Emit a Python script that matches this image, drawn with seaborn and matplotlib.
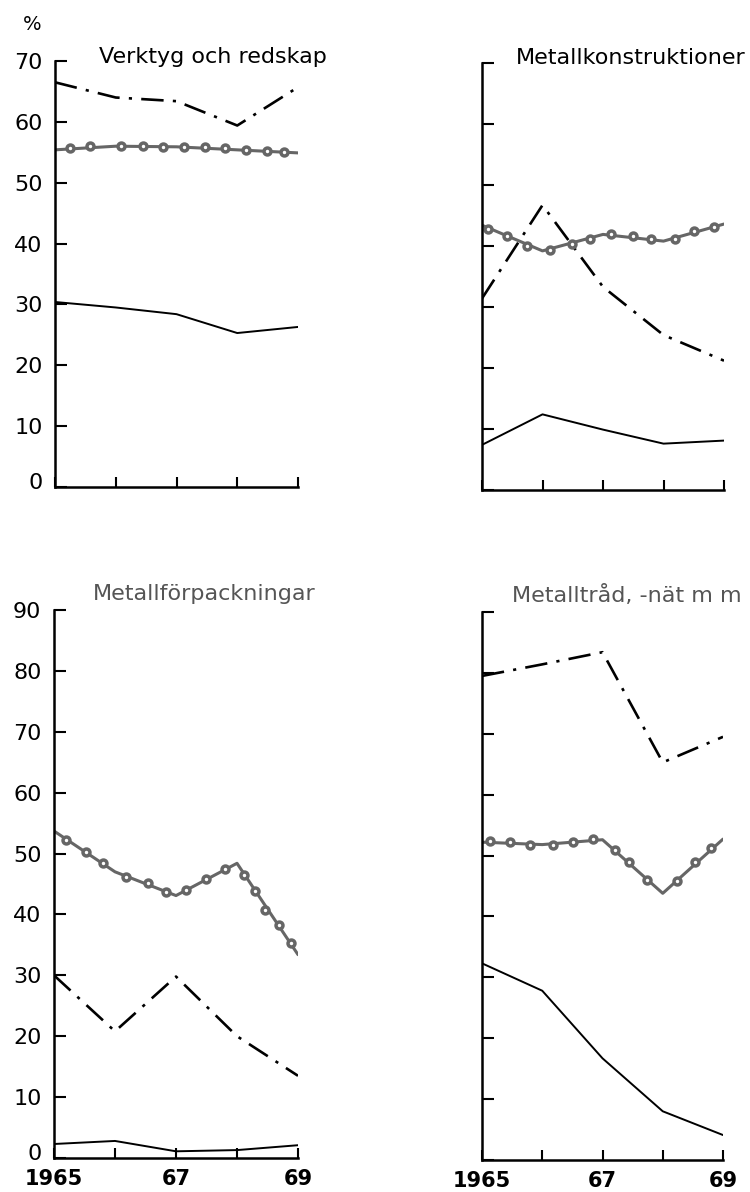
import matplotlib
matplotlib.use("Agg")
import matplotlib.pyplot as plt
import matplotlib.transforms as mtransforms
import seaborn as sns

# --- data (percent) ---
years = [1965, 1966, 1967, 1968, 1969]

# Verktyg och redskap
vr_dashdot = [66.5, 64.0, 63.4, 59.4, 65.7]
vr_solid = [30.4, 29.5, 28.4, 25.3, 26.3]
vr_ring = [55.4, 56.0, 55.9, 55.4, 54.9]
vr_ring_x = [1965.24, 1965.58, 1966.09, 1966.45, 1966.78, 1967.12, 1967.47, 1967.80, 1968.14, 1968.49, 1968.77]
vr_ring_y = [55.7, 56.0, 56.0, 56.0, 55.9, 55.9, 55.8, 55.7, 55.4, 55.2, 55.0]

# Metallkonstruktioner
mk_dashdot = [31.4, 46.7, 33.3, 25.4, 21.2]
mk_solid = [7.4, 12.4, 9.9, 7.6, 8.1]
mk_ring = [43.4, 39.2, 41.9, 40.8, 43.6]
mk_ring_x = [1965.10, 1965.42, 1965.75, 1966.12, 1966.48, 1966.78, 1967.14, 1967.49, 1967.79, 1968.19, 1968.51, 1968.84]
mk_ring_y = [42.8, 41.6, 40.0, 39.4, 40.4, 41.2, 41.9, 41.6, 41.2, 41.1, 42.4, 43.1]

# Metallförpackningar
mf_dashdot = [30.0, 20.8, 29.8, 20.0, 13.5]
mf_solid = [2.3, 2.8, 1.1, 1.3, 2.1]
mf_ring = [53.7, 47.0, 43.1, 48.4, 33.4]
mf_ring_x = [1965.19, 1965.52, 1965.80, 1966.18, 1966.54, 1966.83, 1967.16, 1967.49, 1967.80,
             1968.12, 1968.30, 1968.46, 1968.69, 1968.89]
mf_ring_y = [52.3, 50.3, 48.5, 46.2, 45.2, 43.7, 44.0, 45.9, 47.5, 46.4, 43.9, 40.8, 38.3, 35.3]

# Metalltråd, -nät m m
mt_dashdot = [79.5, 81.4, 83.4, 65.3, 69.5]
mt_solid = [32.3, 27.8, 16.7, 8.0, 4.1]
mt_ring = [52.2, 51.8, 52.6, 43.8, 52.7]
mt_ring_x = [1965.14, 1965.47, 1965.80, 1966.18, 1966.51, 1966.85, 1967.20, 1967.44, 1967.74,
             1968.23, 1968.54, 1968.80]
mt_ring_y = [52.4, 52.2, 51.7, 51.7, 52.3, 52.7, 50.9, 48.9, 46.0, 45.9, 48.9, 51.2]

x_labels = ["1965", "", "67", "", "69"]

sns.set_style("white")
plt.rcParams["font.family"] = ["DejaVu Sans"]
plt.rcParams["text.color"] = "black"
plt.rcParams["xtick.color"] = "black"
plt.rcParams["ytick.color"] = "black"

W, H = 750, 1192
fig = plt.figure(figsize=(7.5, 11.92), dpi=100)


def box(x0, x1, ytop, ybot):
    return [x0 / W, 1 - ybot / H, (x1 - x0) / W, (ybot - ytop) / H]


RING = "#666666"


def panel(rect, dashdot, solid, ring, ring_x, ring_y, ymax, show_y, show_x):
    ax = fig.add_axes(rect)
    sns.lineplot(x=years, y=solid, ax=ax, color="black", linewidth=1.4)
    sns.lineplot(x=years, y=dashdot, ax=ax, color="black", linewidth=1.9,
                 linestyle=(0, (8.5, 3.5, 1.2, 3.5)))
    sns.lineplot(x=years, y=ring, ax=ax, color=RING, linewidth=2.2)
    ax.plot(ring_x, ring_y, linestyle="none", marker="o", markersize=5.0,
            markerfacecolor="white", markeredgecolor=RING, markeredgewidth=2.5)
    ax.set_xlim(1965, 1969)
    ax.set_ylim(0, ymax)
    ax.set_xticks(years)
    ax.set_yticks(range(0, ymax + 1, 10))
    ax.set_xticklabels(x_labels if show_x else [""] * 5,
                       fontsize=15, fontweight="bold")
    ax.set_yticklabels([str(v) for v in range(0, ymax + 1, 10)] if show_y
                       else [""] * (ymax // 10 + 1), fontsize=16)
    ax.tick_params(axis="y", direction="in", length=8.5, width=1.5, pad=9, left=True)
    ax.tick_params(axis="x", direction="in", length=7, width=1.5, pad=8, bottom=True)
    # the "0" sits a little above the axis line in the original
    if show_y:
        lab = ax.get_yticklabels()[0]
        lab.set_transform(lab.get_transform() +
                          mtransforms.ScaledTranslation(0, 4 / 72, fig.dpi_scale_trans))
    for s in ["top", "right"]:
        ax.spines[s].set_visible(False)
    for s in ["left", "bottom"]:
        ax.spines[s].set_linewidth(1.8)
        ax.spines[s].set_color("black")
    ax.set_xlabel("")
    ax.set_ylabel("")
    return ax


panel(box(55, 298, 61, 487), vr_dashdot, vr_solid, vr_ring, vr_ring_x, vr_ring_y, 70, True, False)
panel(box(482, 724, 63, 490), mk_dashdot, mk_solid, mk_ring, mk_ring_x, mk_ring_y, 70, False, False)
panel(box(54, 298, 610, 1158), mf_dashdot, mf_solid, mf_ring, mf_ring_x, mf_ring_y, 90, True, True)
panel(box(482, 723, 612, 1160), mt_dashdot, mt_solid, mt_ring, mt_ring_x, mt_ring_y, 90, False, True)

fig.text(213 / W, 1 - 63 / H, "Verktyg och redskap", ha="center", va="baseline", fontsize=16)
fig.text(746 / W, 1 - 64 / H, "Metallkonstruktioner", ha="right", va="baseline", fontsize=16)
fig.text(204 / W, 1 - 600 / H, "Metallförpackningar", ha="center", va="baseline",
         fontsize=16, color="#555555")
fig.text(742 / W, 1 - 602 / H, "Metalltråd, -nät m m", ha="right", va="baseline",
         fontsize=16, color="#555555")
fig.text(32 / W, 1 - 24 / H, "%", ha="center", va="center", fontsize=14)

fig.savefig("out.png", dpi=100)
